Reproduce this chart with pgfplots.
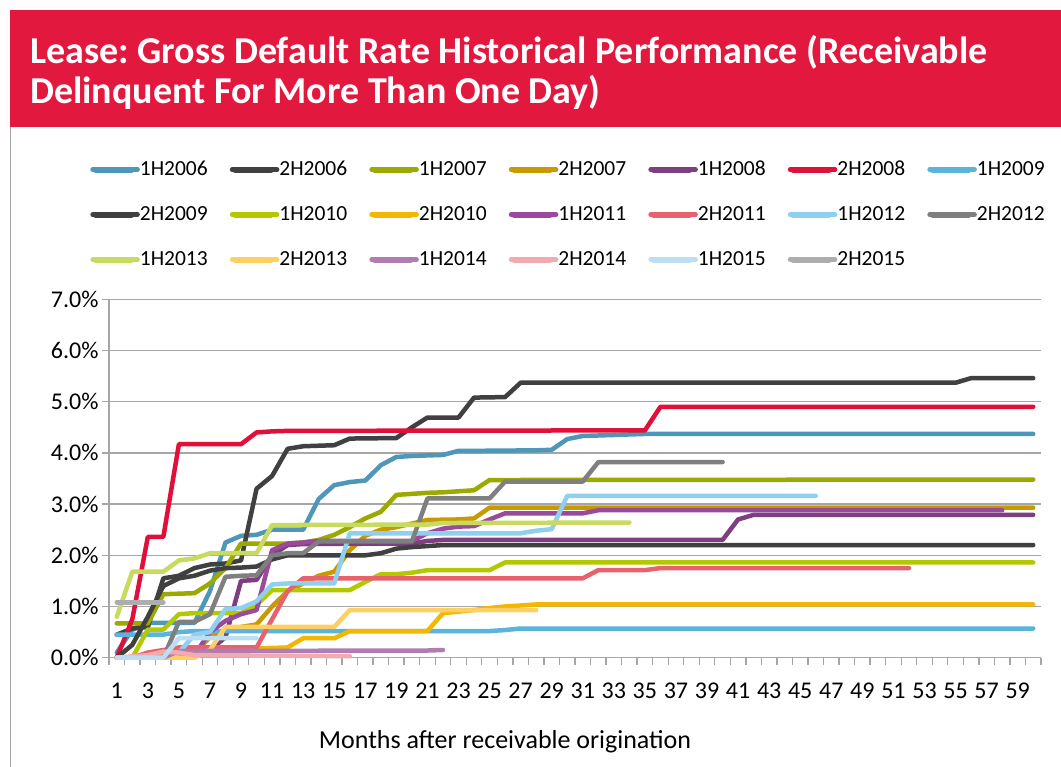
\documentclass[border=0pt]{standalone}
\usepackage{fontspec}
\setmainfont{Carlito}
\usepackage{pgfplots}
\pgfplotsset{compat=1.18}
\frenchspacing
\definecolor{banner}{HTML}{E3183F}
\definecolor{gridgray}{HTML}{A6A6A6}
\definecolor{c1}{HTML}{4E97B8}
\definecolor{c2}{HTML}{404040}
\definecolor{c3}{HTML}{9AAA00}
\definecolor{c4}{HTML}{C99A00}
\definecolor{c5}{HTML}{7E3F80}
\definecolor{c6}{HTML}{E0103A}
\definecolor{c7}{HTML}{5AB4DC}
\definecolor{c8}{HTML}{404040}
\definecolor{c9}{HTML}{B4C800}
\definecolor{c10}{HTML}{F2B700}
\definecolor{c11}{HTML}{9B4A9B}
\definecolor{c12}{HTML}{E8626E}
\definecolor{c13}{HTML}{8ED0EE}
\definecolor{c14}{HTML}{7F7F7F}
\definecolor{c15}{HTML}{C8DB60}
\definecolor{c16}{HTML}{FFCF63}
\definecolor{c17}{HTML}{B07DB3}
\definecolor{c18}{HTML}{F2AAB1}
\definecolor{c19}{HTML}{BDDDF3}
\definecolor{c20}{HTML}{ADADAD}
\begin{document}
\begin{tikzpicture}
\useasboundingbox (0,0) rectangle (1061pt,767pt);
\fill[white] (0,0) rectangle (1061pt,767pt);
\fill[banner] (10pt,640pt) rectangle (1061pt,757pt);
\draw[gridgray, line width=1pt] (10pt,0pt) -- (10pt,640pt);
\node[anchor=base west, text=white, inner sep=0pt, font=\fontsize{38}{38}\selectfont\bfseries] at (30pt,703pt) {Lease: Gross Default Rate Historical Performance (Receivable};
\node[anchor=base west, text=white, inner sep=0pt, font=\fontsize{38}{38}\selectfont\bfseries] at (30pt,663pt) {Delinquent For More Than One Day)};
\node[font=\fontsize{26}{26}\selectfont] at (505pt,25pt) {Months after receivable origination};
\begin{axis}[
  at={(109pt,109.3pt)}, anchor=south west,
  scale only axis, width=932pt, height=358.4pt,
  xmin=0.5, xmax=60.5, ymin=0, ymax=7,
  clip=false,
  axis x line*=bottom, axis y line*=left,
  axis line style={gridgray, line width=1.3pt},
  ytick={0,1,...,7},
  yticklabels={0.0\%,1.0\%,2.0\%,3.0\%,4.0\%,5.0\%,6.0\%,7.0\%},
  ymajorgrids, grid style={gridgray, line width=1.3pt},
  xtick={1,3,...,59},
  xticklabels={1,3,5,7,9,11,13,15,17,19,21,23,25,27,29,31,33,35,37,39,41,43,45,47,49,51,53,55,57,59},
  minor xtick={0.5,1.5,...,60.5},
  tick align=outside,
  major tick length=7pt, minor tick length=7pt,
  major x tick style={draw=none},
  minor x tick style={draw=gridgray, line width=1.3pt},
  major y tick style={draw=gridgray, line width=1.3pt},
  ticklabel style={font=\fontsize{24}{24}\selectfont},
  xticklabel style={yshift=-15pt},
  every axis plot/.append style={line width=4.5pt, line join=round, line cap=round, mark=none},
  legend columns=7,
  legend image code/.code={\draw[line width=6pt, line cap=round] (3pt,0pt) -- (39pt,0pt); \path (0pt,0pt) -- (45pt,0pt);},
  legend style={draw=none, fill=none, at={(-0.02,1.388)}, anchor=north west,
    inner sep=0pt, outer sep=0pt, column sep=0pt, row sep=26pt,
    font=\fontsize{21.5}{21.5}\selectfont,
    nodes={inner sep=0pt, text width=90pt, text height=15pt, text depth=4pt, align=left}},
]
\addplot[c1] coordinates {(1,0.1)(2,0.55)(3,0.68)(4,0.68)(5,0.68)(6,0.68)(7,1.3)(8,2.25)(9,2.38)(10,2.4)(11,2.5)(12,2.5)(13,2.5)(14,3.1)(15,3.37)(16,3.43)(17,3.46)(18,3.76)(19,3.92)(20,3.94)(21,3.95)(22,3.96)(23,4.04)(24,4.04)(28,4.05)(29,4.06)(30,4.27)(31,4.33)(32,4.34)(33,4.35)(34,4.36)(35,4.37)(60,4.37)};
\addlegendentry{1H2006}
\addplot[c2] coordinates {(1,0.45)(2,0.57)(3,0.6)(4,1.55)(5,1.6)(6,1.75)(7,1.82)(8,1.84)(9,1.9)(10,3.3)(11,3.55)(12,4.08)(13,4.13)(14,4.14)(15,4.15)(16,4.28)(19,4.29)(20,4.5)(21,4.69)(23,4.69)(24,5.08)(26,5.09)(27,5.37)(55,5.37)(56,5.46)(60,5.46)};
\addlegendentry{2H2006}
\addplot[c3] coordinates {(1,0.67)(3,0.67)(4,1.24)(5,1.25)(6,1.26)(7,1.45)(8,1.75)(9,2.23)(12,2.23)(13,2.25)(14,2.3)(15,2.4)(16,2.55)(17,2.72)(18,2.85)(19,3.18)(20,3.2)(21,3.22)(22,3.23)(23,3.25)(24,3.27)(25,3.47)(60,3.48)};
\addlegendentry{1H2007}
\addplot[c4] coordinates {(1,0)(4,0)(5,0.03)(6,0.1)(7,0.4)(8,0.55)(9,0.6)(10,0.65)(11,1.0)(12,1.3)(13,1.45)(14,1.6)(15,1.68)(16,2.1)(17,2.38)(18,2.5)(19,2.55)(20,2.62)(21,2.69)(23,2.7)(24,2.72)(25,2.93)(60,2.93)};
\addlegendentry{2H2007}
\addplot[c5] coordinates {(1,0)(4,0)(5,0.1)(6,0.12)(7,0.15)(8,0.4)(9,1.5)(10,1.52)(11,2.0)(12,2.2)(13,2.22)(20,2.23)(21,2.28)(22,2.3)(40,2.3)(41,2.7)(42,2.79)(60,2.79)};
\addlegendentry{1H2008}
\addplot[c6] coordinates {(1,0)(2,0.75)(3,2.36)(4,2.36)(5,4.17)(9,4.17)(10,4.4)(11,4.42)(12,4.43)(35,4.44)(36,4.9)(60,4.9)};
\addlegendentry{2H2008}
\addplot[c7] coordinates {(1,0.45)(4,0.45)(5,0.5)(6,0.52)(25,0.52)(26,0.54)(27,0.57)(60,0.57)};
\addlegendentry{1H2009}
\addplot[c8] coordinates {(1,0)(2,0.25)(3,0.8)(4,1.4)(5,1.55)(6,1.6)(7,1.7)(8,1.75)(9,1.76)(10,1.78)(11,1.92)(12,2.0)(17,2.0)(18,2.04)(19,2.13)(20,2.16)(21,2.18)(22,2.2)(60,2.2)};
\addlegendentry{2H2009}
\addplot[c9] coordinates {(1,0)(2,0)(3,0.55)(4,0.55)(5,0.85)(6,0.87)(9,0.87)(10,1.03)(11,1.32)(16,1.32)(17,1.48)(18,1.63)(19,1.63)(20,1.66)(21,1.71)(25,1.71)(26,1.86)(60,1.86)};
\addlegendentry{1H2010}
\addplot[c10] coordinates {(1,0)(3,0.03)(6,0.08)(9,0.15)(10,0.18)(12,0.2)(13,0.38)(15,0.38)(16,0.52)(21,0.52)(22,0.87)(23,0.9)(24,0.93)(25,0.97)(26,1.0)(27,1.02)(28,1.04)(60,1.04)};
\addlegendentry{2H2010}
\addplot[c11] coordinates {(1,0)(5,0)(6,0.05)(7,0.5)(8,0.72)(9,0.85)(10,0.93)(11,2.1)(12,2.23)(13,2.25)(14,2.28)(20,2.28)(21,2.43)(22,2.52)(23,2.56)(24,2.57)(25,2.7)(26,2.82)(31,2.82)(32,2.88)(58,2.88)};
\addlegendentry{1H2011}
\addplot[c12] coordinates {(1,0)(2,0)(3,0.1)(4,0.15)(5,0.2)(10,0.2)(11,0.75)(12,1.3)(13,1.55)(31,1.55)(32,1.71)(35,1.71)(36,1.75)(52,1.75)};
\addlegendentry{2H2011}
\addplot[c13] coordinates {(1,0)(4,0)(5,0.1)(6,0.45)(7,0.5)(8,0.95)(9,0.97)(10,1.1)(11,1.43)(12,1.45)(15,1.45)(16,2.43)(27,2.43)(28,2.48)(29,2.51)(30,3.16)(46,3.16)};
\addlegendentry{1H2012}
\addplot[c14] coordinates {(1,0)(4,0)(5,0.7)(6,0.7)(7,0.85)(8,1.58)(9,1.6)(10,1.61)(11,2.0)(12,2.04)(13,2.04)(14,2.27)(20,2.27)(21,3.11)(25,3.11)(26,3.44)(31,3.44)(32,3.82)(40,3.82)};
\addlegendentry{2H2012}
\addplot[c15] coordinates {(1,0.8)(2,1.68)(4,1.68)(5,1.9)(6,1.94)(7,2.04)(10,2.04)(11,2.59)(21,2.6)(22,2.63)(34,2.64)};
\addlegendentry{1H2013}
\addplot[c16] coordinates {(1,0)(6,0)(7,0.15)(8,0.6)(15,0.6)(16,0.93)(28,0.93)};
\addlegendentry{2H2013}
\addplot[c17] coordinates {(1,0)(4,0)(5,0.13)(21,0.14)(22,0.15)};
\addlegendentry{1H2014}
\addplot[c18] coordinates {(1,0)(3,0.05)(4,0.12)(5,0.1)(6,0.05)(16,0.03)};
\addlegendentry{2H2014}
\addplot[c19] coordinates {(1,0)(4,0)(5,0.38)(10,0.38)};
\addlegendentry{1H2015}
\addplot[c20] coordinates {(1,1.08)(4,1.08)};
\addlegendentry{2H2015}
\end{axis}
\end{tikzpicture}
\end{document}
